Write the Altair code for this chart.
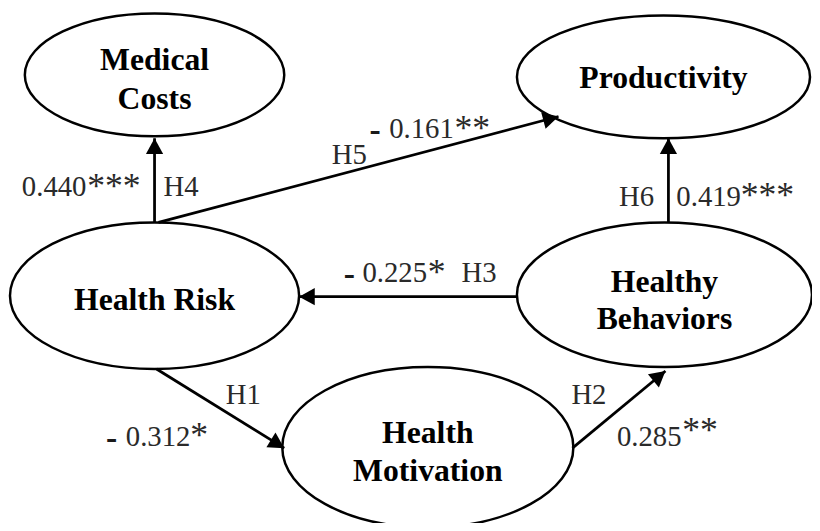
import math
import altair as alt
import pandas as pd

# ---- data ----
node_names = ["Medical Costs", "Productivity", "Health Risk", "Healthy Behaviors", "Health Motivation"]
node_lines = [["Medical", "Costs"], ["Productivity"], ["Health Risk"], ["Healthy", "Behaviors"], ["Health", "Motivation"]]

hypotheses = ["H4", "H5", "H6", "H3", "H1", "H2"]
coef_sign = ["", "-", "", "-", "-", ""]
coef_value = ["0.440", "0.161", "0.419", "0.225", "0.312", "0.285"]
coef_stars = ["***", "**", "***", "*", "*", "**"]
edge_from = ["Health Risk", "Health Risk", "Healthy Behaviors", "Healthy Behaviors", "Health Risk", "Health Motivation"]
edge_to = ["Medical Costs", "Productivity", "Productivity", "Health Risk", "Health Motivation", "Healthy Behaviors"]

# ---- layout (pixel positions of the diagram) ----
node_cx = [156, 670, 156, 671, 432]
node_cy = [73, 75, 296, 295, 449]
node_rx = [131, 148, 146, 149, 147]
node_ry = [62, 62, 74, 73, 81]
line_baselines = [[68, 107], [86], [310], [292, 330], [445, 483]]

edge_x1 = [156, 160, 675, 522, 158, 578]
edge_y1 = [222, 222, 222, 297, 370, 450]
edge_x2 = [156, 564, 675, 302, 287, 672]
edge_y2 = [137, 115, 137, 297, 450, 372]

hyp_x = [165, 335, 625, 466, 228, 577]
hyp_y = [195, 163, 205, 282, 405, 405]
sign_x = [0, 373, 0, 347, 107, 0]
num_x = [22, 393, 683, 366, 127, 623]
num_y = [195, 137, 205, 282, 448, 448]
star_x = [88, 459, 748, 432, 192, 689]
star_y = [197, 139, 206, 284, 449, 444]

FONT = "Liberation Serif"

# ---- tables ----
ell_paths = []
ell_rows = []
for n, cx, cy, rx, ry in zip(node_names, node_cx, node_cy, node_rx, node_ry):
    r = ry / rx
    ell_paths.append(f"M-1,0A1,{r:.4f},0,1,1,1,0A1,{r:.4f},0,1,1,-1,0Z")
    ell_rows.append({"node": n, "x": cx, "y": cy, "sz": (2 * rx) ** 2})
ell_df = pd.DataFrame(ell_rows)

name_rows = []
for n, cx, lines, bls in zip(node_names, node_cx, node_lines, line_baselines):
    for t, b in zip(lines, bls):
        name_rows.append({"node": n, "text": t, "x": cx, "y": b})
name_df = pd.DataFrame(name_rows)

edge_rows = []
for h, a, b, x1, y1, x2, y2 in zip(hypotheses, edge_from, edge_to, edge_x1, edge_y1, edge_x2, edge_y2):
    ang = math.degrees(math.atan2(x2 - x1, -(y2 - y1))) % 360
    edge_rows.append({"h": h, "from": a, "to": b, "x": x1, "y": y1, "x2": x2, "y2": y2, "ang": ang})
edge_df = pd.DataFrame(edge_rows)

text_rows, sign_rows, star_rows = [], [], []
for i, h in enumerate(hypotheses):
    text_rows.append({"text": h, "x": hyp_x[i], "y": hyp_y[i]})
    text_rows.append({"text": coef_value[i], "x": num_x[i], "y": num_y[i]})
    if coef_sign[i]:
        sign_rows.append({"text": coef_sign[i], "x": sign_x[i], "y": num_y[i] + 3})
    star_rows.append({"text": coef_stars[i], "x": star_x[i], "y": star_y[i]})
text_df = pd.DataFrame(text_rows)
sign_df = pd.DataFrame(sign_rows)
star_df = pd.DataFrame(star_rows)

xs = alt.Scale(domain=[8, 812], nice=False, zero=False)
ys = alt.Scale(domain=[8, 523], nice=False, zero=False, reverse=True)
X = alt.X("x:Q", scale=xs, axis=None)
Y = alt.Y("y:Q", scale=ys, axis=None)

ellipses = alt.Chart(ell_df).mark_point(
    filled=False, stroke="black", strokeWidth=2.5, opacity=1
).encode(
    x=X, y=Y,
    shape=alt.Shape("node:N", scale=alt.Scale(domain=node_names, range=ell_paths), legend=None),
    size=alt.Size("sz:Q", scale=None, legend=None),
)

rules = alt.Chart(edge_df).mark_rule(color="black", strokeWidth=2.8).encode(
    x=X, y=Y, x2="x2:Q", y2="y2:Q",
)

heads = alt.Chart(edge_df).mark_point(
    shape="M0,0L-0.55,1L0.55,1Z", filled=True, color="black", opacity=1, size=1000, strokeWidth=0
).encode(
    x=alt.X("x2:Q", scale=xs, axis=None),
    y=alt.Y("y2:Q", scale=ys, axis=None),
    angle=alt.Angle("ang:Q", scale=None),
)

names = alt.Chart(name_df).mark_text(
    font=FONT, fontWeight="bold", fontSize=32, align="center", baseline="alphabetic", color="black"
).encode(x=X, y=Y, text="text:N")

labels = alt.Chart(text_df).mark_text(
    font=FONT, fontSize=29, align="left", baseline="alphabetic", color="#2a2a2a"
).encode(x=X, y=Y, text="text:N")

signs = alt.Chart(sign_df).mark_text(
    font=FONT, fontSize=34, fontWeight="bold", align="left", baseline="alphabetic", color="#1a1a1a"
).encode(x=X, y=Y, text="text:N")

stars = alt.Chart(star_df).mark_text(
    font=FONT, fontSize=36, align="left", baseline="alphabetic", color="#2a2a2a"
).encode(x=X, y=Y, text="text:N")

chart = alt.layer(ellipses, rules, heads, names, labels, signs, stars).properties(
    width=804, height=515,
    padding={"left": 0, "top": 0, "right": 8, "bottom": 0},
    autosize="none",
).configure_view(stroke=None)

chart.save("out.html", embed_options={"renderer": "svg", "actions": False})
